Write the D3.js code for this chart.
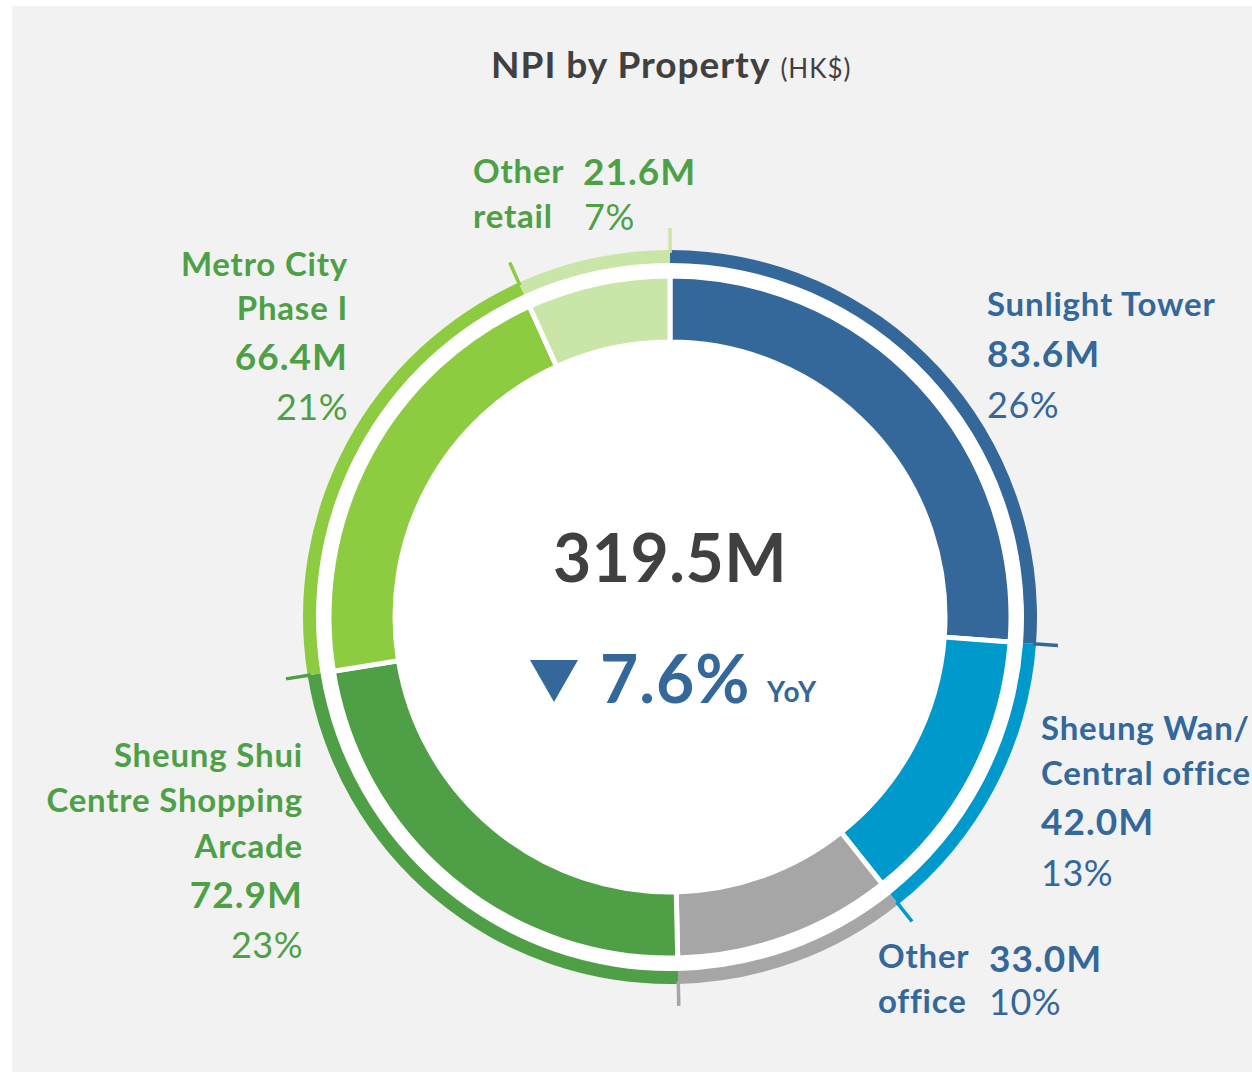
<!DOCTYPE html>
<html>
<head>
<meta charset="utf-8">
<script src="https://cdn.jsdelivr.net/npm/d3@7"></script>
<style>
  html, body { margin: 0; padding: 0; background: #ffffff; }
  svg { display: block; }
  text { font-family: Lato, "Open Sans", sans-serif; }
</style>
</head>
<body>
<svg id="chart" width="1252" height="1072"></svg>
<script>
// ---- Data ----
const categories = ["Sunlight Tower", "Sheung Wan/Central office", "Other office",
                    "Sheung Shui Centre Shopping Arcade", "Metro City Phase I", "Other retail"];
const values = [83.6, 42.0, 33.0, 72.9, 66.4, 21.6];
const valueLabels = ["83.6M", "42.0M", "33.0M", "72.9M", "66.4M", "21.6M"];
const percentLabels = ["26%", "13%", "10%", "23%", "21%", "7%"];
const nameLines = [["Sunlight Tower"], ["Sheung Wan/", "Central office"], ["Other", "office"],
                   ["Sheung Shui", "Centre Shopping", "Arcade"], ["Metro City", "Phase I"], ["Other", "retail"]];
const sliceColors = ["#34679a", "#0099cc", "#a6a6a6", "#4e9f45", "#8dcb41", "#c9e6a8"];
const textColors = ["#34679a", "#34679a", "#34679a", "#4ea046", "#4ea046", "#4ea046"];
const totalLabel = "319.5M";
const yoyLabel = "7.6%";

// ---- Layout ----
const W = 1252, H = 1072;
const cx = 670, cy = 617;
const svg = d3.select("#chart");

svg.append("rect").attr("x", 12).attr("y", 6).attr("width", W - 12).attr("height", H - 6).attr("fill", "#f2f2f2");

// title
const title = svg.append("text").attr("x", 491).attr("y", 78).attr("text-anchor", "start").attr("fill", "#404040");
title.append("tspan").attr("font-weight", 700).attr("font-size", 37).attr("letter-spacing", 1).text("NPI by Property");
title.append("tspan").attr("font-size", 26).attr("letter-spacing", 1).attr("dx", 10).text("(HK$)");

const g = svg.append("g").attr("transform", `translate(${cx},${cy})`);

const pie = d3.pie().sort(null).value(d => d);
const arcs = pie(values);

// white backing disk
g.append("circle").attr("r", 355).attr("fill", "#ffffff");

// outer thin ring
const ringArc = d3.arc().innerRadius(354).outerRadius(367);
g.selectAll("path.ring").data(arcs).join("path").attr("class", "ring")
  .attr("d", ringArc).attr("fill", (d, i) => sliceColors[i]);

// ticks at slice ends
g.selectAll("line.tick").data(arcs).join("line").attr("class", "tick")
  .attr("x1", d => 364 * Math.sin(d.endAngle)).attr("y1", d => -364 * Math.cos(d.endAngle))
  .attr("x2", d => 389 * Math.sin(d.endAngle)).attr("y2", d => -389 * Math.cos(d.endAngle))
  .attr("stroke", (d, i) => sliceColors[i]).attr("stroke-width", 3.5);

// main donut
const mainArc = d3.arc().innerRadius(275).outerRadius(341);
g.selectAll("path.slice").data(arcs).join("path").attr("class", "slice")
  .attr("d", mainArc).attr("fill", (d, i) => sliceColors[i])
  .attr("stroke", "#ffffff").attr("stroke-width", 5).attr("stroke-linejoin", "miter");

g.append("circle").attr("r", 273).attr("fill", "#ffffff");

// center text
svg.append("text").attr("x", 670).attr("y", 582).attr("text-anchor", "middle")
  .attr("font-weight", 700).attr("font-size", 66).attr("letter-spacing", 0.5).attr("fill", "#404040").text(totalLabel);

svg.append("path").attr("d", d3.line()([[530, 660], [578, 660], [554, 702]]) + "Z").attr("fill", "#34679a");
svg.append("text").attr("x", 600).attr("y", 703).attr("font-weight", 700).attr("font-size", 66)
  .attr("letter-spacing", 1).attr("fill", "#34679a").text(yoyLabel);
svg.append("text").attr("x", 767).attr("y", 702).attr("font-weight", 700).attr("font-size", 28)
  .attr("letter-spacing", 1.5).attr("fill", "#34679a").text("YoY");

// ---- Labels ----
const labelLayout = [
  { x: 987, anchor: "start", names: [316], val: [987, 367], pct: [987, 418] },
  { x: 1041, anchor: "start", names: [740, 785], val: [1041, 835], pct: [1041, 886] },
  { x: 878, anchor: "start", names: [968, 1013], val: [989, 972], pct: [989, 1015] },
  { x: 303, anchor: "end", names: [767, 812, 858], val: [303, 908], pct: [303, 958] },
  { x: 348, anchor: "end", names: [276, 320], val: [348, 370], pct: [348, 420] },
  { x: 473, anchor: "start", names: [183, 228], val: [583, 185], pct: [584, 230] }
];

labelLayout.forEach((L, i) => {
  const lg = svg.append("g").attr("fill", textColors[i]);
  nameLines[i].forEach((ln, j) => {
    lg.append("text").attr("x", L.x).attr("y", L.names[j]).attr("text-anchor", L.anchor)
      .attr("font-weight", 700).attr("font-size", 33).attr("letter-spacing", 0.8).text(ln);
  });
  lg.append("text").attr("x", L.val[0]).attr("y", L.val[1]).attr("text-anchor", L.anchor)
    .attr("font-weight", 700).attr("font-size", 37).attr("letter-spacing", 1).text(valueLabels[i]);
  lg.append("text").attr("x", L.pct[0]).attr("y", L.pct[1]).attr("text-anchor", L.anchor)
    .attr("font-weight", 400).attr("font-size", 36).attr("letter-spacing", 0.5).text(percentLabels[i]);
});
</script>
</body>
</html>
